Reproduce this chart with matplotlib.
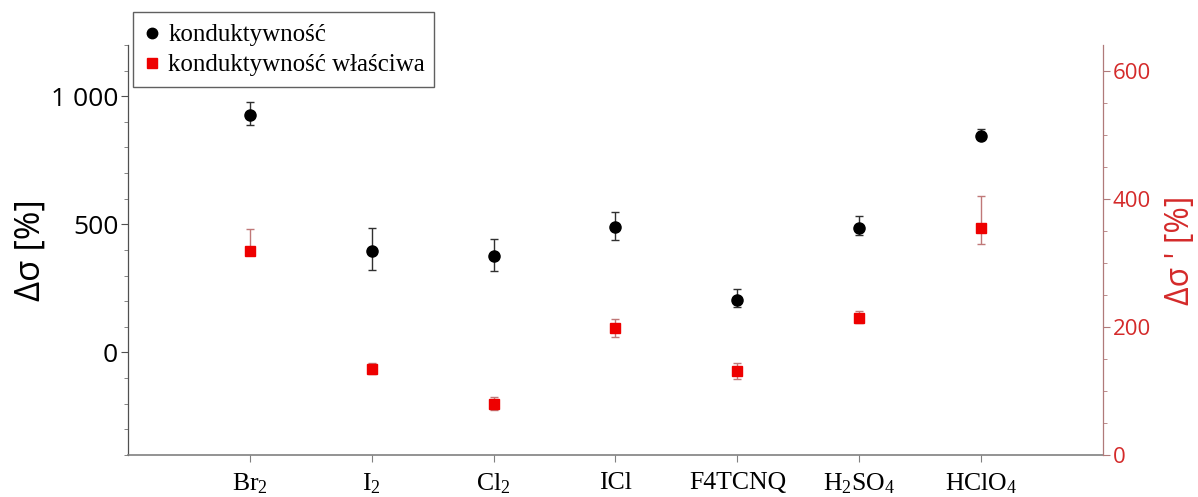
import matplotlib
matplotlib.use("Agg")
import matplotlib.pyplot as plt
from matplotlib.ticker import MultipleLocator, FuncFormatter
from matplotlib.lines import Line2D
from matplotlib.patches import Rectangle

# --- data -------------------------------------------------------------
categories = [r"Br$_{\mathrm{2}}$", r"I$_{\mathrm{2}}$", r"Cl$_{\mathrm{2}}$", "ICl",
              "F4TCNQ", r"H$_{\mathrm{2}}$SO$_{\mathrm{4}}$", r"HClO$_{\mathrm{4}}$"]

# conductance change, left axis [%]
sigma = [926, 397, 375, 488, 204, 484, 845]
sigma_err_low = [37, 74, 57, 48, 26, 27, 8]
sigma_err_high = [52, 90, 68, 60, 45, 48, 26]

# specific conductivity change, right axis [%]
sigma_spec = [318, 134, 80, 198, 131, 214, 354]
sigma_spec_err_low = [5, 8, 10, 14, 12, 8, 24]
sigma_spec_err_high = [35, 10, 11, 14, 12, 11, 50]

legend_labels = ["konduktywność", "konduktywność właściwa"]

# --- styling ------------------------------------------------------------
plt.rcParams["mathtext.fontset"] = "custom"
plt.rcParams["mathtext.rm"] = "Liberation Serif"
plt.rcParams["mathtext.it"] = "Liberation Serif:italic"
plt.rcParams["mathtext.bf"] = "Liberation Serif:bold"

RED = "#d42a2a"
RED_AXIS = "#b07a7a"
RED_ERR = "#c07878"
SANS = "Open Sans"
SERIF = "Liberation Serif"

W, H = 1198, 497
fig = plt.figure(figsize=(W / 100, H / 100), dpi=100)
ax = fig.add_axes([0.1068, 0.0845, 0.8139, 0.825])
ax2 = ax.twinx()

x = list(range(1, len(categories) + 1))

ax.errorbar(x, sigma, yerr=[sigma_err_low, sigma_err_high], fmt="o",
            color="black", ms=8, ecolor="#303030", elinewidth=1.0,
            capsize=3, capthick=1.0, zorder=3)
ax2.errorbar(x, sigma_spec, yerr=[sigma_spec_err_low, sigma_spec_err_high],
             fmt="s", color="#ee0000", ms=7.5, ecolor=RED_ERR, elinewidth=1.0,
             capsize=3, capthick=1.0, zorder=3)

# left axis
ax.set_xlim(0, 8)
ax.set_ylim(-400, 1200)
ax.yaxis.set_major_locator(MultipleLocator(500))
ax.yaxis.set_minor_locator(MultipleLocator(100))
ax.yaxis.set_major_formatter(FuncFormatter(
    lambda v, p: f"{int(v):,}".replace(",", " ") if v >= -1 else ""))
ax.set_xticks(x)
ax.set_xticklabels(categories, fontfamily=SERIF, fontsize=18.5)
ax.tick_params(axis="x", direction="out", length=5, width=0.8,
               color="#808080", pad=7)
ax.tick_params(axis="y", which="major", direction="out", length=5,
               width=0.8, color="#505050", labelsize=19, pad=2)
ax.tick_params(axis="y", which="minor", direction="out", length=3,
               width=0.6, color="#707070")
for lbl in ax.get_yticklabels():
    lbl.set_fontfamily(SANS)
ax.set_ylabel("Δσ [%]", fontfamily=SANS, fontsize=25)
ax.yaxis.set_label_coords(-0.082, 0.5)

ax.spines["top"].set_visible(False)
ax.spines["right"].set_visible(False)
ax.spines["left"].set_color("#505050")
ax.spines["left"].set_linewidth(0.9)
ax.spines["bottom"].set_color("#808080")
ax.spines["bottom"].set_linewidth(1.2)

# right axis
ax2.set_ylim(0, 640)
ax2.yaxis.set_major_locator(MultipleLocator(200))
ax2.yaxis.set_minor_locator(MultipleLocator(50))
ax2.tick_params(axis="y", which="major", direction="out", length=5,
                width=0.8, color=RED_AXIS, labelcolor=RED, labelsize=16, pad=2)
ax2.tick_params(axis="y", which="minor", direction="out", length=3,
                width=0.6, color=RED_AXIS)
for lbl in ax2.get_yticklabels():
    lbl.set_fontfamily(SANS)
ax2.set_ylabel("Δσ ' [%]", fontfamily=SANS, fontsize=23, color=RED)
ax2.yaxis.set_label_coords(1.063, 0.5)
for side in ("top", "left", "bottom"):
    ax2.spines[side].set_visible(False)
ax2.spines["right"].set_color(RED_AXIS)
ax2.spines["right"].set_linewidth(0.9)

# legend box above the plot area
fig.patches.append(Rectangle((133 / W, 1 - 87 / H), 301 / W, 75 / H,
                             transform=fig.transFigure, facecolor="white",
                             edgecolor="#606060", linewidth=1.0, zorder=5))
handles = [
    Line2D([], [], ls="none", marker="o", color="black", ms=7.5),
    Line2D([], [], ls="none", marker="s", color="#ee0000", ms=7),
]
leg = fig.legend(handles, legend_labels, loc="upper left",
                 bbox_to_anchor=(142 / W, 1 - 24 / H),
                 bbox_transform=fig.transFigure,
                 prop={"family": SERIF, "size": 18}, frameon=False,
                 handlelength=0.8, handletextpad=0.25, borderpad=0,
                 labelspacing=0.3, borderaxespad=0)
leg.set_zorder(6)

fig.savefig("out.png", dpi=100)
